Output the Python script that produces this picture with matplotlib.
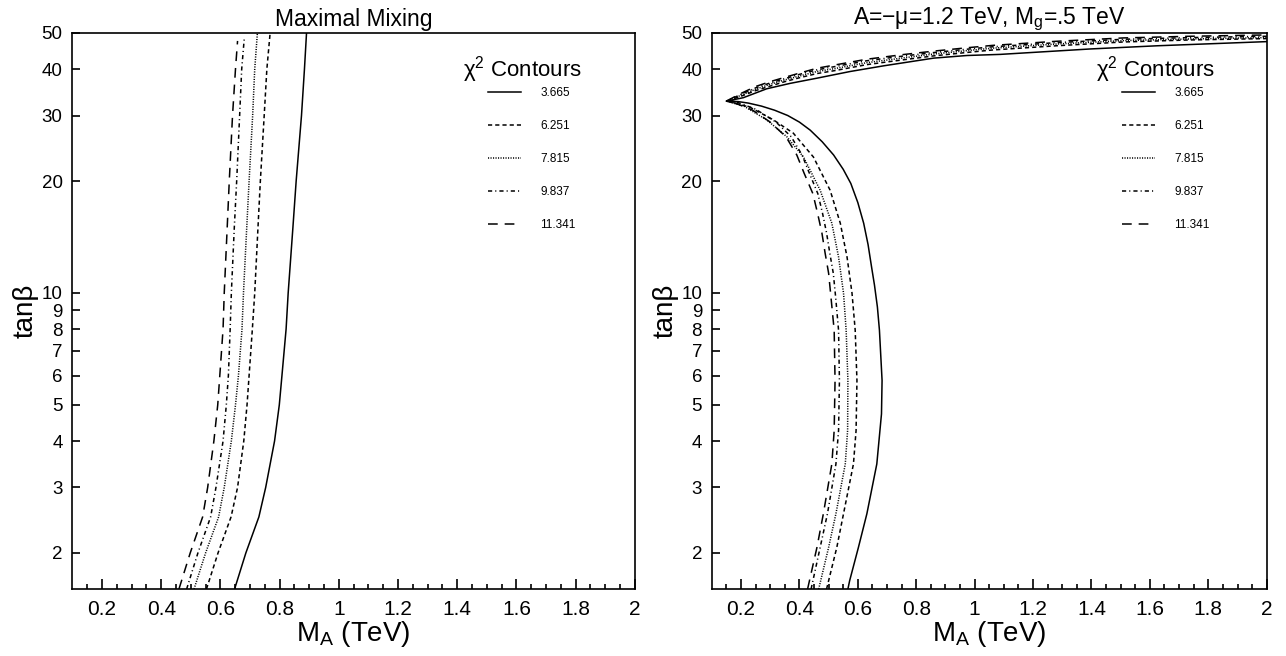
import numpy as np
import matplotlib
matplotlib.use("Agg")
import matplotlib.pyplot as plt

plt.rcParams['font.family'] = ['Liberation Sans', 'DejaVu Sans']
plt.rcParams['mathtext.fontset'] = 'custom'
plt.rcParams['mathtext.rm'] = 'Liberation Sans'
plt.rcParams['mathtext.it'] = 'Liberation Sans:italic'
plt.rcParams['mathtext.default'] = 'regular'
plt.rcParams['lines.scale_dashes'] = False

# ---------------------------------------------------------------
# data (M_A in TeV, tan beta)
# ---------------------------------------------------------------
chi2_labels = ["3.665", "6.251", "7.815", "9.837", "11.341"]

# left panel: maximal mixing
left_tb = [1.6, 2.0, 2.5, 3.0, 4.0, 5.0, 6.0, 8.0, 10.0, 15.0, 20.0, 30.0, 40.0, 50.0]
left_ma_3665 = [0.648, 0.686, 0.730, 0.753, 0.783, 0.799, 0.808, 0.822, 0.829, 0.845, 0.856, 0.874, 0.884, 0.891]
left_ma_6251 = [0.553, 0.592, 0.636, 0.658, 0.679, 0.690, 0.697, 0.708, 0.716, 0.727, 0.735, 0.748, 0.757, 0.768]
left_ma_7815 = [0.511, 0.550, 0.594, 0.613, 0.637, 0.651, 0.661, 0.673, 0.678, 0.689, 0.697, 0.709, 0.716, 0.725]
left_tb_9837 = [1.6, 2.0, 2.5, 3.0, 4.0, 5.0, 6.0, 8.0, 10.0, 15.0, 20.0, 30.0, 40.0, 48.7]
left_ma_9837 = [0.486, 0.524, 0.567, 0.585, 0.609, 0.620, 0.627, 0.633, 0.637, 0.647, 0.655, 0.665, 0.672, 0.681]
left_tb_11341 = [1.6, 2.0, 2.5, 3.0, 4.0, 5.0, 6.0, 8.0, 10.0, 15.0, 20.0, 30.0, 40.0, 47.6]
left_ma_11341 = [0.460, 0.498, 0.540, 0.557, 0.578, 0.591, 0.598, 0.609, 0.613, 0.623, 0.630, 0.641, 0.651, 0.658]

# right panel: A=-mu=1.2 TeV, Mg=.5 TeV  (lower branch -> apex -> upper branch)
right_ma_3665 = [0.566, 0.572, 0.602, 0.631, 0.665, 0.681, 0.683, 0.674, 0.667, 0.657, 0.647, 0.635, 0.620,
                 0.600, 0.576, 0.550, 0.517, 0.478, 0.437, 0.400, 0.360, 0.315, 0.270, 0.225, 0.190, 0.151,
                 0.208, 0.288, 0.368, 0.460, 0.574, 0.688, 0.860, 0.974, 1.088, 1.397, 1.626, 2.0]
right_tb_3665 = [1.6, 1.685, 2.07, 2.55, 3.47, 4.73, 5.82, 7.94, 9.17, 10.5, 11.75, 13.5, 15.4,
                 17.5, 19.7, 21.5, 23.5, 25.5, 27.4, 28.8, 30.0, 31.0, 31.8, 32.4, 32.7, 32.8,
                 33.5, 35.4, 36.6, 37.8, 39.4, 40.8, 42.8, 43.5, 43.8, 45.3, 46.2, 47.4]

right_ma_6251 = [0.493, 0.528, 0.551, 0.585, 0.594, 0.597, 0.591, 0.580, 0.563, 0.540, 0.505, 0.448, 0.379,
                 0.311, 0.230, 0.150,
                 0.200, 0.250, 0.300, 0.350, 0.400, 0.460, 0.520, 0.630, 0.750, 0.860, 0.970, 1.060,
                 1.280, 1.510, 1.740, 2.0]
right_tb_6251 = [1.6, 2.07, 2.55, 3.47, 4.27, 5.82, 7.94, 10.0, 12.5, 15.4, 18.9, 23.2, 26.9,
                 29.2, 31.6, 32.8,
                 33.8, 35.0, 36.0, 37.0, 37.9, 38.9, 39.6, 41.1, 42.3, 43.4, 44.3, 45.0,
                 46.2, 47.3, 47.9, 48.3]

right_ma_7815 = [0.466, 0.500, 0.525, 0.557, 0.565, 0.566, 0.560, 0.551, 0.534, 0.511, 0.471, 0.414, 0.357,
                 0.288, 0.210, 0.150,
                 0.200, 0.250, 0.300, 0.350, 0.400, 0.460, 0.520, 0.630, 0.750, 0.860, 0.970, 1.060,
                 1.280, 1.510, 1.740, 2.0]
right_tb_7815 = [1.6, 2.07, 2.55, 3.47, 4.27, 5.82, 7.94, 10.0, 12.5, 15.4, 18.9, 23.2, 26.3,
                 29.2, 31.8, 32.8,
                 34.0, 35.3, 36.4, 37.4, 38.3, 39.4, 40.1, 41.6, 42.8, 43.9, 44.8, 45.5,
                 46.7, 47.7, 48.2, 48.6]

right_ma_9837 = [0.440, 0.471, 0.496, 0.525, 0.534, 0.537, 0.534, 0.524, 0.516, 0.504, 0.493, 0.479, 0.463,
                 0.434, 0.409, 0.372, 0.320, 0.250, 0.190, 0.150,
                 0.200, 0.250, 0.300, 0.350, 0.400, 0.460, 0.520, 0.630, 0.750, 0.860, 0.970, 1.060,
                 1.280, 1.510, 1.740, 2.0]
right_tb_9837 = [1.6, 2.07, 2.55, 3.47, 4.27, 5.82, 7.94, 9.75, 11.3, 12.8, 14.5, 16.4, 18.5,
                 21.0, 23.5, 26.3, 28.8, 31.2, 32.5, 32.8,
                 34.2, 35.6, 36.7, 37.7, 38.7, 39.8, 40.6, 42.1, 43.3, 44.3, 45.2, 45.9,
                 47.1, 48.1, 48.6, 49.0]

right_ma_11341 = [0.428, 0.460, 0.482, 0.511, 0.519, 0.522, 0.519, 0.508, 0.500, 0.488, 0.477, 0.462, 0.446,
                  0.416, 0.391, 0.354, 0.300, 0.240, 0.180, 0.150,
                  0.200, 0.250, 0.300, 0.350, 0.400, 0.460, 0.520, 0.630, 0.750, 0.860, 0.970, 1.060,
                  1.280, 1.510, 1.740, 2.0]
right_tb_11341 = [1.6, 2.07, 2.55, 3.47, 4.27, 5.82, 7.94, 9.75, 11.3, 12.8, 14.5, 16.4, 18.5,
                  21.0, 23.5, 26.3, 28.8, 31.0, 32.4, 32.8,
                  34.4, 35.9, 37.0, 38.0, 39.0, 40.2, 41.0, 42.5, 43.7, 44.7, 45.6, 46.3,
                  47.5, 48.5, 49.0, 49.4]

x_ticks = [0.2, 0.4, 0.6, 0.8, 1.0, 1.2, 1.4, 1.6, 1.8, 2.0]
x_ticklabels = ["0.2", "0.4", "0.6", "0.8", "1", "1.2", "1.4", "1.6", "1.8", "2"]
y_ticks = [2, 3, 4, 5, 6, 7, 8, 9, 10, 20, 30, 40, 50]
y_ticklabels = ["2", "3", "4", "5", "6", "7", "8", "9", "10", "20", "30", "40", "50"]

styles = ['-', (0, (3, 2.2)), (0, (0.8, 1.0)), (0, (3, 2.2, 0.8, 2.2)), (0, (7, 5))]

left_curves = [(left_ma_3665, left_tb), (left_ma_6251, left_tb), (left_ma_7815, left_tb),
               (left_ma_9837, left_tb_9837), (left_ma_11341, left_tb_11341)]
right_curves = [(right_ma_3665, right_tb_3665), (right_ma_6251, right_tb_6251),
                (right_ma_7815, right_tb_7815), (right_ma_9837, right_tb_9837),
                (right_ma_11341, right_tb_11341)]


def draw_panel(ax, curves, title):
    for (ma, tb), ls, lab in zip(curves, styles, chi2_labels):
        ax.plot(ma, tb, color='black', linestyle=ls, linewidth=1.1, label=lab)

    ax.set_yscale('log')
    ax.set_xlim(0.1, 2.0)
    ax.set_ylim(1.6, 50)

    ax.set_xticks(x_ticks, x_ticklabels)
    ax.set_xticks(np.arange(0.15, 2.0, 0.05), minor=True)
    ax.set_yticks(y_ticks, y_ticklabels)
    ax.set_yticks([10], [""], minor=True)

    ax.tick_params(axis='both', which='both', direction='in', top=False, right=False, width=1.2)
    ax.tick_params(axis='x', which='major', length=7.5, pad=8, labelsize=15)
    ax.tick_params(axis='x', which='minor', length=3.8)
    ax.tick_params(axis='y', which='major', length=6, pad=7, labelsize=13.5)
    ax.tick_params(axis='y', which='minor', length=11)
    for sp in ax.spines.values():
        sp.set_linewidth(1.2)

    ax.set_xlabel('M$_A$ (TeV)', fontsize=20, labelpad=0)
    ax.set_ylabel('tanβ', fontsize=20, labelpad=2)
    ax.set_title(title, fontsize=16.5, pad=5)

    # chi^2 legend block
    ax.legend(loc='upper left', bbox_to_anchor=(0.731, 0.912), frameon=False,
              fontsize=8.5, handlelength=2.8, handletextpad=1.6,
              labelspacing=1.79, borderaxespad=0)
    ax.text(0.800, 0.935, 'χ$^2$ Contours', transform=ax.transAxes,
            ha='center', va='center', fontsize=16)


fig = plt.figure(figsize=(12.86, 6.56), dpi=100)
ax1 = fig.add_axes([0.0563, 0.1021, 0.4373, 0.8476])
ax2 = fig.add_axes([0.5535, 0.1021, 0.4315, 0.8476])

draw_panel(ax1, left_curves, 'Maximal Mixing')
draw_panel(ax2, right_curves, 'A=\u2212μ=1.2 TeV, M$_g$=.5 TeV')

fig.savefig('out.png', dpi=100)
